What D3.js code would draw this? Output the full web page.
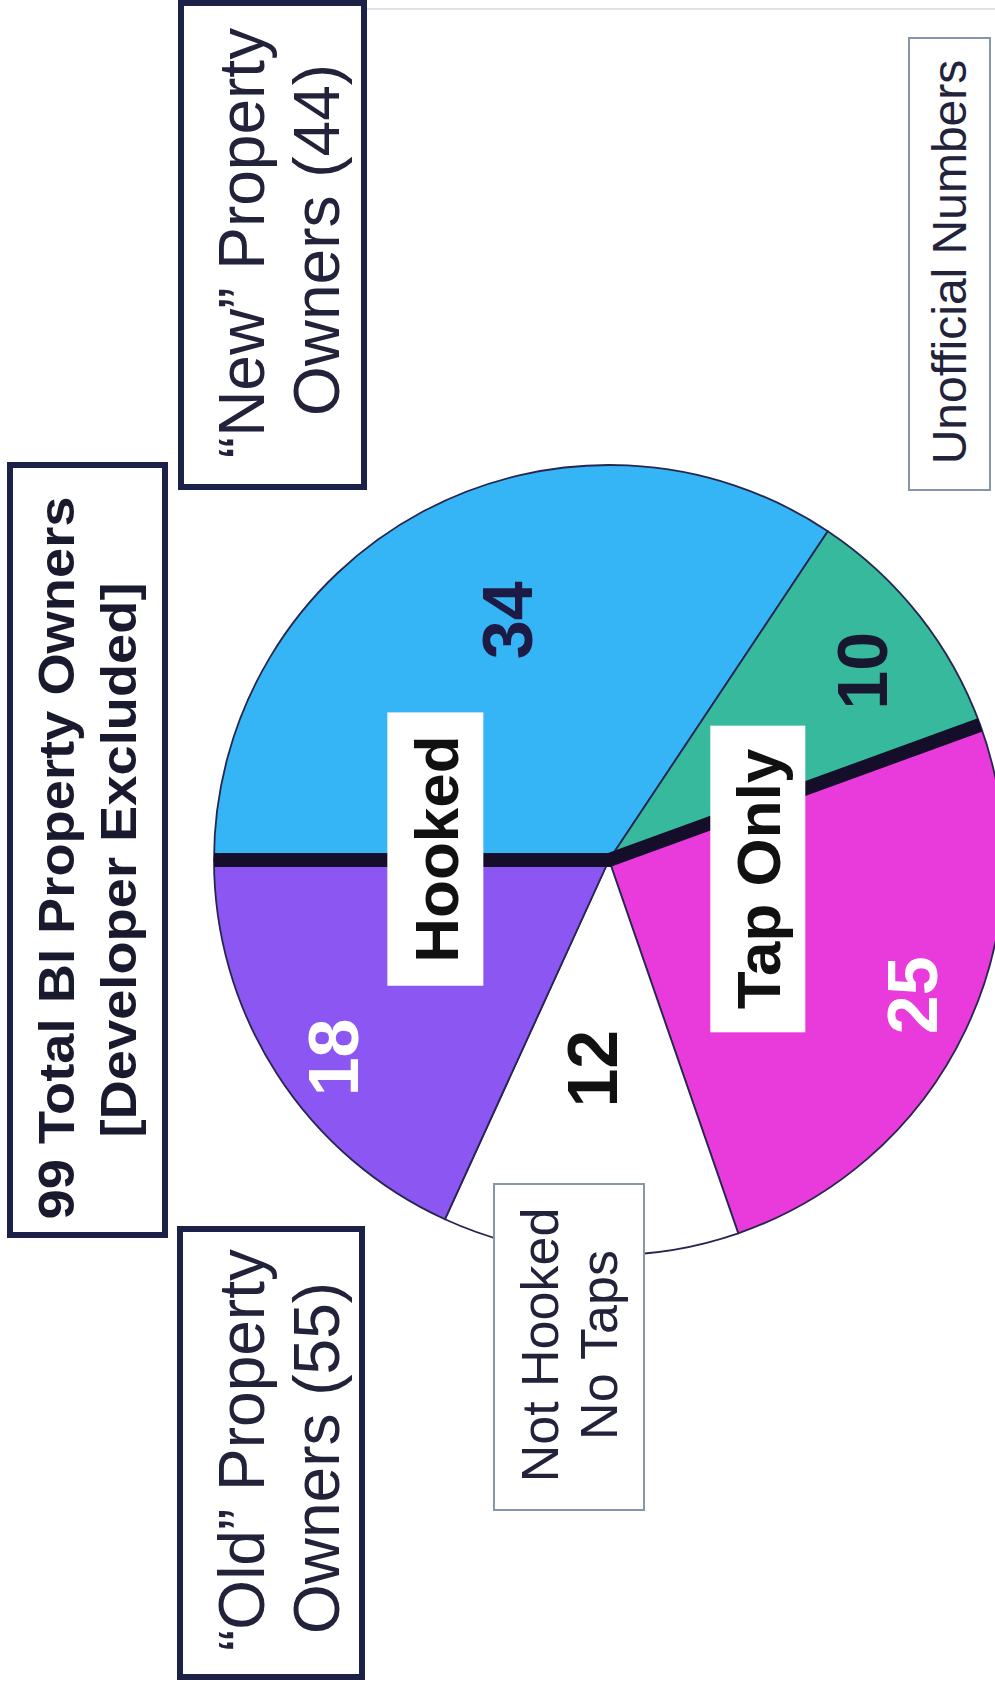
<!DOCTYPE html>
<html>
<head>
<meta charset="utf-8">
<script src="https://cdn.jsdelivr.net/npm/d3@7"></script>
<style>
  html, body { margin: 0; padding: 0; background: #fff; }
  svg { display: block; }
</style>
</head>
<body>
<div id="chart"></div>
<script>
// slices, clockwise from the "Hooked" divider
var categories = ["New - Hooked", "New - Tap Only", "Old - Tap Only", "Old - Not Hooked No Taps", "Old - Hooked"];
var counts = [34, 10, 25, 12, 18];
var ownerGroup = ["New", "New", "Old", "Old", "Old"];
var sliceStatus = ["Hooked", "Tap Only", "Tap Only", "Not Hooked", "Hooked"];

// box texts
var titleLines = ["99 Total BI Property Owners", "[Developer Excluded]"];
var newLines = ["\u201cNew\u201d Property", "Owners (44)"];
var oldLines = ["\u201cOld\u201d Property", "Owners (55)"];
var noneLines = ["Not Hooked", "No Taps"];
var noteText = "Unofficial Numbers";

// styles
var sliceColors = ["#36b5f6", "#36b99c", "#e93bdb", "#ffffff", "#8b56f1"];
var numColors = ["#1d1a45", "#17172f", "#ffffff", "#111111", "#ffffff"];
var numRadius = [0.66, 0.80, 0.84, 0.53, 0.86];   // fraction of R
var numNudge = [5, 1.4, -1.4, 2, -2.8];           // degrees
var font = "'Liberation Sans', Arial, Helvetica, sans-serif";

var width = 995, height = 1691;
var cx = 609, cy = 860, R = 395;

var svg = d3.select("#chart")
  .append("svg")
    .attr("width", width)
    .attr("height", height);

svg.append("rect")
  .attr("width", width).attr("height", height)
  .attr("fill", "#ffffff");

// faint scan edge at the top
svg.append("line")
  .attr("x1", 363).attr("x2", width)
  .attr("y1", 9).attr("y2", 9)
  .attr("stroke", "#dfe2e8").attr("stroke-width", 2);

// rotated text helper: (x, y) is the baseline centre on screen
function vtext(parent, x, y, str, size, weight, fill, len) {
  var t = parent.append("text")
    .attr("transform", "translate(" + x + "," + y + ") rotate(-90)")
    .attr("text-anchor", "middle")
    .style("font-family", font)
    .style("font-size", size + "px")
    .style("font-weight", weight)
    .attr("fill", fill)
    .text(str);
  if (len) t.attr("textLength", len).attr("lengthAdjust", "spacingAndGlyphs");
  return t;
}

// Pie
var pie = d3.pie()
  .sort(null)
  .value(function(d) { return d; })
  .startAngle(-Math.PI / 2)
  .endAngle(1.5 * Math.PI);
var arcs = pie(counts);

var arc = d3.arc().innerRadius(0).outerRadius(R);

var g = svg.append("g")
  .attr("transform", "translate(" + cx + "," + cy + ")");

g.selectAll("path.slice")
  .data(arcs)
  .enter()
  .append("path")
    .attr("class", "slice")
    .attr("d", arc)
    .attr("fill", function(d, i) { return sliceColors[i]; })
    .attr("stroke", "#262650")
    .attr("stroke-width", 1.8)
    .attr("stroke-linejoin", "round");

// thick divider between "New" and "Old" owners
var cuts = [];
arcs.forEach(function(d, i) {
  var prev = (i + counts.length - 1) % counts.length;
  if (ownerGroup[i] !== ownerGroup[prev]) cuts.push(d.startAngle);
});
var p1 = d3.pointRadial(cuts[0], R), p2 = d3.pointRadial(cuts[1], R);
g.append("path")
  .attr("d", "M" + p1[0] + "," + p1[1] + "L0,0L" + p2[0] + "," + p2[1])
  .attr("fill", "none")
  .attr("stroke", "#150e2a")
  .attr("stroke-width", 14)
  .attr("stroke-linejoin", "miter");

// numbers
arcs.forEach(function(d, i) {
  var a = (d.startAngle + d.endAngle) / 2 + numNudge[i] * Math.PI / 180;
  var p = d3.pointRadial(a, R * numRadius[i]);
  vtext(g, p[0] + 0.36 * 70, p[1], String(counts[i]), 70, "bold", numColors[i]);
});

// white status labels: Hooked sits on the divider, Tap Only in the middle of its slices
function statusLabel(name, angle, r, boxW) {
  var p = d3.pointRadial(angle, r);
  var lg = g.append("g")
    .attr("transform", "translate(" + p[0] + "," + p[1] + ") rotate(-90)");
  var rect = lg.append("rect").attr("fill", "#ffffff");
  var t = lg.append("text")
    .attr("text-anchor", "middle")
    .attr("dy", "0.36em")
    .style("font-family", font)
    .style("font-size", "62px")
    .style("font-weight", "bold")
    .attr("fill", "#111111")
    .text(name);
  var len = t.node().getComputedTextLength();
  rect.attr("x", -len / 2 - 23).attr("width", len + 46)
    .attr("y", -boxW / 2).attr("height", boxW);
}
var hookedStart = arcs[sliceStatus.indexOf("Hooked")].startAngle;
statusLabel("Hooked", hookedStart + 3.6 * Math.PI / 180, 174, 96);
var tapIdx = [];
sliceStatus.forEach(function(s, i) { if (s === "Tap Only") tapIdx.push(i); });
var tapMid = (arcs[tapIdx[0]].startAngle + arcs[tapIdx[tapIdx.length - 1]].endAngle) / 2;
statusLabel("Tap Only", tapMid, 150, 95);

// Boxes
function box(x, y, w, h, stroke, sw) {
  svg.append("rect")
    .attr("x", x).attr("y", y).attr("width", w).attr("height", h)
    .attr("fill", "#ffffff")
    .attr("stroke", stroke)
    .attr("stroke-width", sw);
}

// title
box(10, 465, 155, 770, "#1b2148", 6);
vtext(svg, 74, 858, titleLines[0], 50, "bold", "#1a1a2e", 723);
vtext(svg, 136, 860, titleLines[1], 50, "bold", "#1a1a2e", 555);

// new / old owners
box(181, 3, 183, 484, "#1b2148", 6);
vtext(svg, 264, 243, newLines[0], 64, "normal", "#22223a");
vtext(svg, 339, 240, newLines[1], 64, "normal", "#22223a");

box(180, 1229, 182, 448, "#1b2148", 6);
vtext(svg, 264, 1450, oldLines[0], 64, "normal", "#22223a");
vtext(svg, 339, 1458, oldLines[1], 64, "normal", "#22223a");

// not hooked / no taps
box(494, 1184, 150, 326, "#8896aa", 2);
vtext(svg, 558, 1345, noneLines[0], 52, "normal", "#22223a");
vtext(svg, 617, 1345, noneLines[1], 52, "normal", "#22223a");

// note
box(909, 38, 81, 452, "#8896aa", 2);
vtext(svg, 966, 262, noteText, 48, "normal", "#22223a");
</script>
</body>
</html>
